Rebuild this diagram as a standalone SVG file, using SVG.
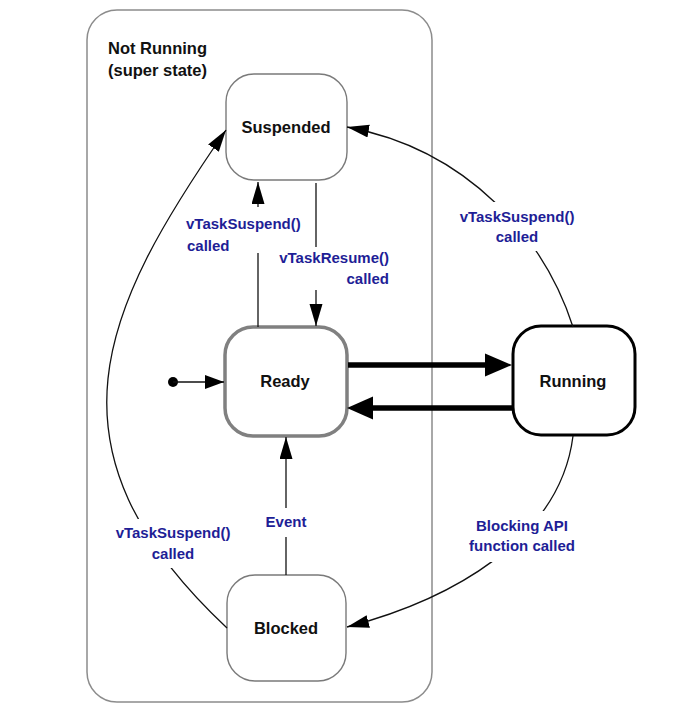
<svg xmlns="http://www.w3.org/2000/svg" width="677" height="722" viewBox="0 0 677 722">
<style>
  .frame{fill:#fff;stroke:#8c8c8c;stroke-width:1.5}
  .node{fill:#fff;stroke:#7a7a7a;stroke-width:1.4}
  .ready{fill:#fff;stroke:#808080;stroke-width:3.5}
  .running{fill:#fff;stroke:#000;stroke-width:3}
  .nlabel{font-family:"Liberation Sans",Arial,sans-serif;font-weight:bold;font-size:16.5px;fill:#111;text-anchor:middle}
  .title{font-family:"Liberation Sans",Arial,sans-serif;font-weight:bold;font-size:16.5px;fill:#111}
  .elabel{font-family:"Liberation Sans",Arial,sans-serif;font-weight:bold;font-size:15px;fill:#1e1e96}
  .edge{fill:none;stroke:#111;stroke-width:1.3}
  .thick{fill:none;stroke:#000;stroke-width:5.5}
</style>
<defs>
  <marker id="arr" markerUnits="userSpaceOnUse" markerWidth="24" markerHeight="16" refX="22" refY="6.5" orient="auto">
    <path d="M0,0 L22,6.5 L0,13 z" fill="#000"/>
  </marker>
  <marker id="arrS" markerUnits="userSpaceOnUse" markerWidth="22" markerHeight="16" refX="19" refY="7" orient="auto">
    <path d="M0,0 L19,7 L0,14 z" fill="#000"/>
  </marker>
  <mask id="gaps" maskUnits="userSpaceOnUse" x="0" y="0" width="677" height="722">
    <rect x="0" y="0" width="677" height="722" fill="#fff"/>
    <rect x="184" y="207" width="122" height="46" fill="#000"/>
    <rect x="276" y="247" width="116" height="43" fill="#000"/>
    <rect x="456" y="202" width="122" height="49" fill="#000"/>
    <rect x="262" y="508" width="48" height="29" fill="#000"/>
    <rect x="110" y="519" width="126" height="49" fill="#000"/>
    <rect x="464" y="511" width="116" height="51" fill="#000"/>
  </mask>
</defs>

<g id="not-running">
  <rect class="frame" x="87" y="10" width="345" height="692" rx="30" ry="30"/>
  <text class="title" x="108" y="54">Not Running</text>
  <text class="title" x="108" y="76">(super state)</text>
</g>

<g id="suspended">
  <rect class="node" x="226" y="74" width="121" height="106" rx="28" ry="28"/>
  <text class="nlabel" x="286" y="133">Suspended</text>
</g>

<g id="ready">
  <rect class="ready" x="225" y="327" width="122" height="109" rx="28" ry="28"/>
  <text class="nlabel" x="285" y="387">Ready</text>
</g>

<g id="running">
  <rect class="running" x="513" y="326" width="122" height="109" rx="28" ry="28"/>
  <text class="nlabel" x="573" y="387">Running</text>
</g>

<g id="blocked">
  <rect class="node" x="227" y="575" width="119" height="106" rx="28" ry="28"/>
  <text class="nlabel" x="286" y="634">Blocked</text>
</g>

<g id="initial">
  <circle cx="173" cy="382" r="5" fill="#000"/>
</g>

<g id="connectors">
  <g mask="url(#gaps)">
    <path class="edge" d="M173,382 L224,382" marker-end="url(#arrS)"/>
    <path class="edge" d="M258,327 L258,182" marker-end="url(#arr)"/>
    <path class="edge" d="M316,183 L316,326" marker-end="url(#arr)"/>
    <path class="edge" d="M286,575 L286,437" marker-end="url(#arr)"/>
    <path class="edge" d="M227,628 C35,448 102,309 226,130" marker-end="url(#arr)"/>
    <path class="edge" d="M573,327 C545,240 470,150 347,127" marker-end="url(#arr)"/>
    <path class="edge" d="M573,436 C560,540 450,600 347,627" marker-end="url(#arr)"/>
  </g>
  <path class="thick" d="M348,365 L486,365"/>
  <polygon points="485,353.5 512,365 485,376.5" fill="#000"/>
  <path class="thick" d="M512,408 L372,408"/>
  <polygon points="373,396.5 347,408 373,419.5" fill="#000"/>
</g>

<g id="labels">
  <text class="elabel" x="186" y="229">vTaskSuspend()</text>
  <text class="elabel" x="187" y="251">called</text>
  <text class="elabel" x="389" y="263" text-anchor="end">vTaskResume()</text>
  <text class="elabel" x="389" y="284" text-anchor="end">called</text>
  <text class="elabel" x="517" y="222" text-anchor="middle">vTaskSuspend()</text>
  <text class="elabel" x="517" y="242" text-anchor="middle">called</text>
  <text class="elabel" x="286" y="527" text-anchor="middle">Event</text>
  <text class="elabel" x="173" y="538" text-anchor="middle">vTaskSuspend()</text>
  <text class="elabel" x="173" y="559" text-anchor="middle">called</text>
  <text class="elabel" x="522" y="531" text-anchor="middle">Blocking API</text>
  <text class="elabel" x="522" y="551" text-anchor="middle">function called</text>
</g>
</svg>
